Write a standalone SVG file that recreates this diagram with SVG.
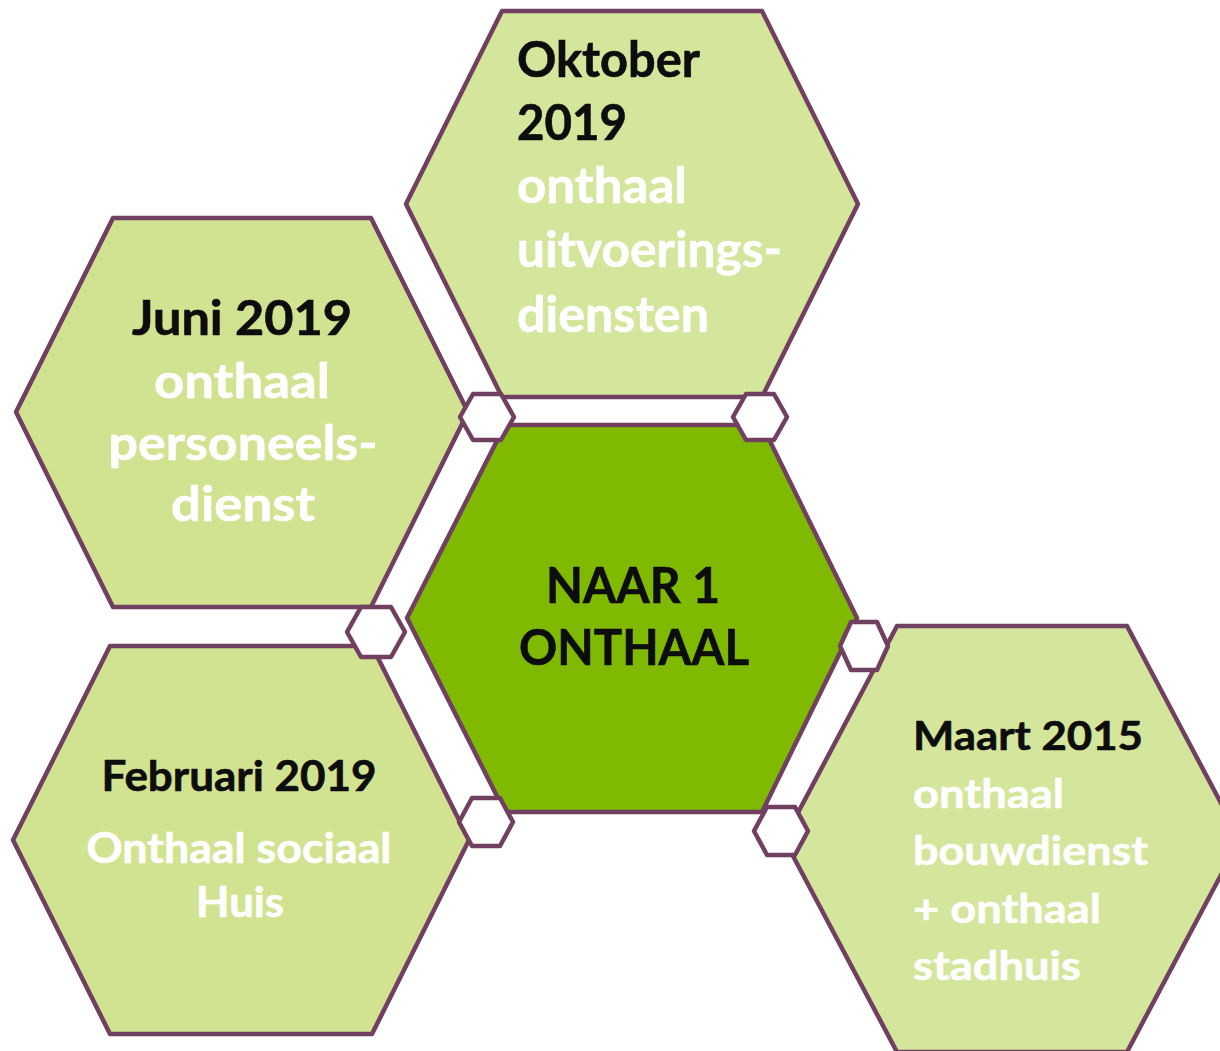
<svg xmlns="http://www.w3.org/2000/svg" width="1220" height="1051" viewBox="0 0 1220 1051">
  <style>
    .hex { stroke: #714060; stroke-width: 4.5; stroke-linejoin: round; }
    .pale { fill: #D4E59C; }
    .pale2 { fill: #D1E391; }
    .core { fill: #80BA00; }
    .joint { fill: #FFFFFF; stroke: #714060; stroke-width: 4.5; stroke-linejoin: round; }
    text { font-family: Lato, "Open Sans", "Liberation Sans", sans-serif; font-weight: 700; }
    .dark { fill: #0D0D0D; stroke: #0D0D0D; stroke-width: 0.6; }
    .light { fill: #FFFFFF; stroke: #FFFFFF; stroke-width: 0.6; }
  </style>
  <rect width="1220" height="1051" fill="#FFFFFF"/>

  <!-- Oktober 2019 -->
  <g id="node-oktober">
    <polygon class="hex pale" points="502,11 762,11 858,204 762,397 502,397 406,204"/>
    <g font-size="49">
      <text class="dark" x="517" y="77" textLength="183" lengthAdjust="spacingAndGlyphs">Oktober</text>
      <text class="dark" x="517" y="140" textLength="110" lengthAdjust="spacingAndGlyphs">2019</text>
      <text class="light" x="517" y="203" textLength="170" lengthAdjust="spacingAndGlyphs">onthaal</text>
      <text class="light" x="517" y="267" textLength="265" lengthAdjust="spacingAndGlyphs">uitvoerings-</text>
      <text class="light" x="517" y="332" textLength="192" lengthAdjust="spacingAndGlyphs">diensten</text>
    </g>
  </g>

  <!-- Juni 2019 -->
  <g id="node-juni">
    <polygon class="hex pale2" points="113,218 371,218 468,412 371,607 113,607 16,412"/>
    <g font-size="47" text-anchor="middle">
      <text class="dark" x="242" y="335" textLength="220" lengthAdjust="spacingAndGlyphs">Juni 2019</text>
      <text class="light" x="242" y="398" textLength="176" lengthAdjust="spacingAndGlyphs">onthaal</text>
      <text class="light" x="243" y="460" textLength="269" lengthAdjust="spacingAndGlyphs">personeels-</text>
      <text class="light" x="243" y="521" textLength="144" lengthAdjust="spacingAndGlyphs">dienst</text>
    </g>
  </g>

  <!-- Februari 2019 -->
  <g id="node-februari">
    <polygon class="hex pale2" points="110,646 372,646 469,840 372,1034 110,1034 13,840"/>
    <g font-size="42" text-anchor="middle">
      <text class="dark" x="239" y="791" textLength="275" lengthAdjust="spacingAndGlyphs">Februari 2019</text>
      <text class="light" x="239" y="863" textLength="305" lengthAdjust="spacingAndGlyphs">Onthaal sociaal</text>
      <text class="light" x="240" y="917" textLength="88" lengthAdjust="spacingAndGlyphs">Huis</text>
    </g>
  </g>

  <!-- NAAR 1 ONTHAAL -->
  <g id="node-centre">
    <polygon class="hex core" points="505,425 762,425 857,618 762,812 505,812 407,618"/>
    <g font-size="49" text-anchor="middle">
      <text class="dark" x="633" y="603" textLength="174" lengthAdjust="spacingAndGlyphs">NAAR 1</text>
      <text class="dark" x="634" y="665" textLength="230" lengthAdjust="spacingAndGlyphs">ONTHAAL</text>
    </g>
  </g>

  <!-- Maart 2015 -->
  <g id="node-maart">
    <polygon class="hex pale" points="897,626 1127,626 1240,839 1127,1052 897,1052 784,839"/>
    <g font-size="40">
      <text class="dark" x="913" y="750" textLength="230" lengthAdjust="spacingAndGlyphs">Maart 2015</text>
      <text class="light" x="913" y="808" textLength="151" lengthAdjust="spacingAndGlyphs">onthaal</text>
      <text class="light" x="913" y="865" textLength="235" lengthAdjust="spacingAndGlyphs">bouwdienst</text>
      <text class="light" x="913" y="923" textLength="188" lengthAdjust="spacingAndGlyphs">+ onthaal</text>
      <text class="light" x="913" y="980" textLength="168" lengthAdjust="spacingAndGlyphs">stadhuis</text>
    </g>
  </g>

  <!-- small joint hexagons where the cells meet -->
  <g id="connectors">
    <polygon class="joint" points="473,394 501,394 514,417 501,440 473,440 460,417"/>
    <polygon class="joint" points="746,394 774,394 787,417 774,440 746,440 733,417"/>
    <polygon class="joint" points="361,607 391,607 405,632 391,657 361,657 347,632"/>
    <polygon class="joint" points="472,798 500,798 513,822 500,846 472,846 459,822"/>
    <polygon class="joint" points="851,622 877,622 888,646 877,670 851,670 840,646"/>
    <polygon class="joint" points="767,807 795,807 808,831 795,855 767,855 754,831"/>
  </g>
</svg>
